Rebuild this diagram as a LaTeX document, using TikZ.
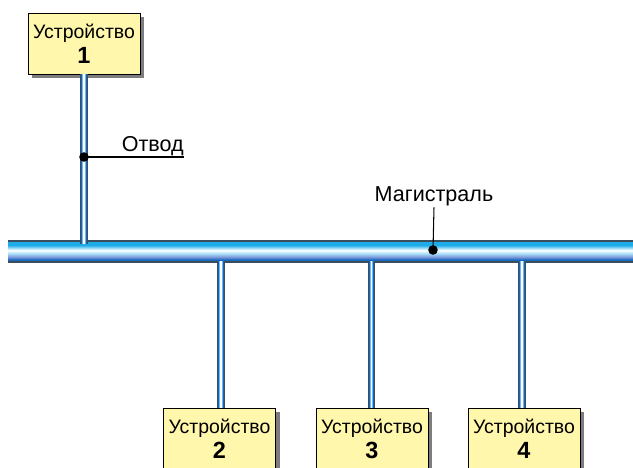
\documentclass[tikz,border=0pt]{standalone}
\usepackage{fontspec}
\setmainfont{Liberation Sans}
\usetikzlibrary{shadows}

\definecolor{boxfill}{RGB}{255,247,172}
\definecolor{boxshadow}{RGB}{125,125,125}
\definecolor{pipeedge}{RGB}{60,78,92}
\definecolor{pipeblue}{RGB}{20,100,190}
\definecolor{pipelight}{RGB}{110,185,240}
\definecolor{buscyan}{RGB}{30,172,232}
\definecolor{busfade}{RGB}{165,222,248}
\definecolor{buslilac}{RGB}{135,160,222}
\definecolor{busmid}{RGB}{30,110,195}
\definecolor{busdark}{RGB}{0,70,150}

% bottom of the bar at 25bp, top at 75bp
\pgfdeclareverticalshading{busshade}{100bp}{color(0bp)=(busdark); color(25bp)=(busdark); color(31bp)=(busmid); color(38bp)=(buslilac); color(45bp)=(busfade); color(53bp)=(white); color(65bp)=(buscyan); color(75bp)=(buscyan); color(100bp)=(buscyan)}

\tikzset{
  devbox/.style={draw=black, fill=boxfill, minimum width=3.36cm, minimum height=1.83cm,
    align=center, inner sep=1pt, font=\fontsize{16.6}{21.3}\selectfont,
    drop shadow={shadow xshift=.12cm, shadow yshift=-.12cm, fill=boxshadow, opacity=1}},
  stem/.style={draw=pipeedge, line width=6.2pt,
    postaction={draw=pipeblue, line width=4.6pt},
    postaction={draw=pipelight, line width=2.8pt},
    postaction={draw=white, line width=0.9pt}},
  tag/.style={font=\fontsize{18.4}{21}\selectfont, inner sep=0pt}
}
\newcommand{\devnum}[1]{{\fontsize{20}{21.3}\selectfont\bfseries #1}}

\begin{document}
\begin{tikzpicture}[x=0.03cm,y=-0.03cm]
\useasboundingbox (0,0) rectangle (633,468);

% bus
\coordinate (busW) at (8,241);
\coordinate (busE) at (645,262);
\shade[shading=busshade] (busW) rectangle (busE);
\draw[pipeedge, line width=1.3pt] (8,241) -- (645,241);
\draw[pipeedge, line width=1.3pt] (8,262) -- (645,262);

% devices
\node[devbox] (dev1) at (84,43.5) {Устройство\\\devnum{1}};
\node[devbox] (dev2) at (219.5,438.5) {Устройство\\\devnum{2}};
\node[devbox] (dev3) at (372,438.5) {Устройство\\\devnum{3}};
\node[devbox] (dev4) at (524,438.5) {Устройство\\\devnum{4}};

\coordinate (tap1) at (84,244);
\coordinate (tap2) at (221,261);
\coordinate (tap3) at (371.5,261);
\coordinate (tap4) at (522,261);

\draw[stem] (dev1) -- (tap1);
\draw[stem] (tap2) -- (tap2 |- dev2.north);
\draw[stem] (tap3) -- (tap3 |- dev3.north);
\draw[stem] (tap4) -- (tap4 |- dev4.north);

% labels
\coordinate (otvodDot) at (84,157);
\coordinate (otvodEnd) at (184,157);
\node[tag, anchor=base east] (otvod) at (184,151) {Отвод};
\draw[line width=0.9pt] (otvodDot) -- (otvodEnd);
\fill (otvodDot) circle (4.8);

\coordinate (busDot) at (433,250);
\node[tag, anchor=base, inner sep=1.5pt] (mag) at (434,201) {Магистраль};
\draw[line width=0.9pt] (busDot) -- (mag.south);
\fill (busDot) circle (4.8);
\end{tikzpicture}
\end{document}
